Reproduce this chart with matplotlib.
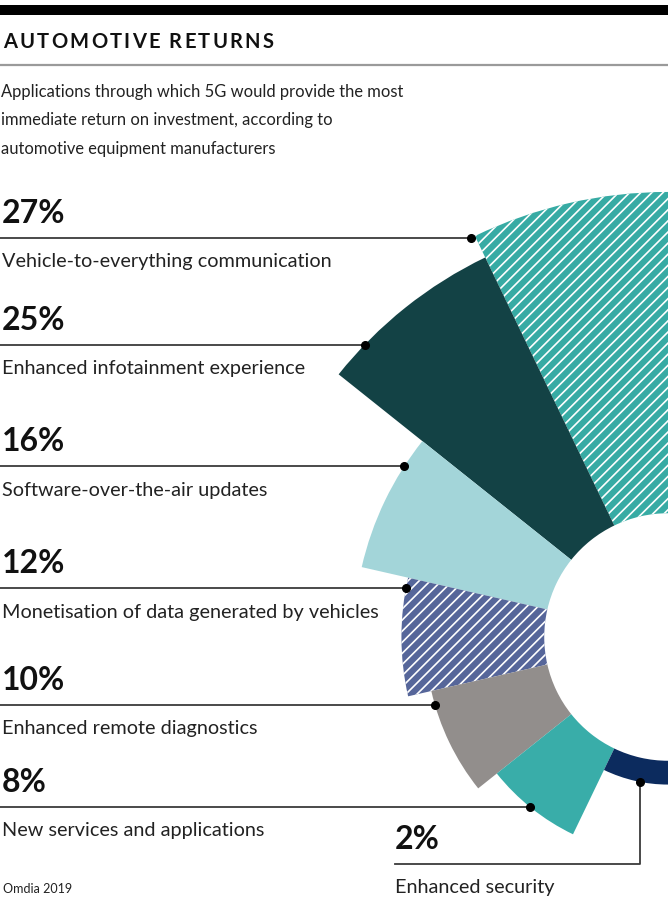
import numpy as np
import matplotlib
matplotlib.use("Agg")
import matplotlib.pyplot as plt

plt.rcParams['font.family'] = ['Lato', 'DejaVu Sans']
plt.rcParams['hatch.linewidth'] = 1.2

# data
labels = ['Vehicle-to-everything communication',
          'Enhanced infotainment experience',
          'Software-over-the-air updates',
          'Monetisation of data generated by vehicles',
          'Enhanced remote diagnostics',
          'New services and applications',
          'Enhanced security']
values = [27, 25, 16, 12, 10, 8, 2]
colors = ['#37aba4', '#134245', '#a3d5d9', '#56669a', '#928e8c', '#39ada9', '#0c2b5e']
hatches = ['///', None, None, '///', None, None, None]
# where the leader touches each segment (fraction of its angular width)
anchor_frac = [1.02, 0.79, 0.22, 0.09, 0.13, 0.48, 0.58]

title = 'AUTOMOTIVE RETURNS'
subtitle = ['Applications through which 5G would provide the most',
            'immediate return on investment, according to',
            'automotive equipment manufacturers']
source = 'Omdia 2019'

W, H = 668, 900
fig = plt.figure(figsize=(W / 100, H / 100), dpi=100)

# polar "rose" - centre sits on the right edge of the figure
cx, cy = 668, 637          # pixels, y from top
px_unit = 11.9             # pixels per percentage point
rmax = 40
inner = 10.4
R = rmax * px_unit
ax = fig.add_axes([(cx - R) / W, (H - cy - R) / H, 2 * R / W, 2 * R / H],
                  projection='polar')
ax.set_theta_zero_location('N')
ax.set_theta_direction(1)
ax.set_ylim(0, rmax)
ax.set_axis_off()

n = len(values)
w = np.pi / n
theta = np.arange(n) * w
for t, v, c, h in zip(theta, values, colors, hatches):
    ax.bar(t, v, width=w, bottom=inner, align='edge', color=c,
           hatch=h, edgecolor='white' if h else c, linewidth=0)

# overlay in pixel coordinates for texts and leaders
ov = fig.add_axes([0, 0, 1, 1], zorder=5)
ov.set_xlim(0, W)
ov.set_ylim(H, 0)
ov.axis('off')

renderer = fig.canvas.get_renderer()


def tracked_text(x, y, s, spacing, **kw):
    # draw text letter by letter with extra spacing (pixels)
    for ch in s:
        if ch == ' ':
            x += kw.get('fontsize', 12) * 0.45
            continue
        t = ov.text(x, y, ch, **kw)
        bb = t.get_window_extent(renderer)
        x += bb.width + spacing


ov.axhspan(5, 15, color='black', lw=0)
ov.plot([0, W], [65, 65], color='#9a9a9a', lw=1.6)
tracked_text(3, 48, title, 2.3, fontsize=14.5, fontweight='bold', color='#111111')
for i, line in enumerate(subtitle):
    ov.text(1, 97 + i * 28.5, line, fontsize=11.9, color='#222222')
ov.text(3, 893, source, fontsize=9, color='#222222')

lc = '#3a3a3a'
for i in range(n):
    t = theta[i] + anchor_frac[i] * w
    px, py = ax.transData.transform((t, inner + values[i]))
    dx, dy = px, H - py
    if i < n - 1:
        ly = dy
        ov.plot([0, dx], [ly, ly], color=lc, lw=1.3, solid_capstyle='butt')
        tx = 2
    else:
        ly = 864
        ov.plot([395, dx, dx], [ly, ly, dy], color=lc, lw=1.3)
        tx = 395
    ov.plot(dx, dy, 'o', color='black', ms=5.5)
    ov.text(tx, ly - 15, '%d%%' % values[i], fontsize=23, fontweight='bold',
            color='#111111')
    ov.text(tx, ly + 29.5, labels[i], fontsize=14.3, color='#222222')

fig.savefig('out.png', dpi=100)
